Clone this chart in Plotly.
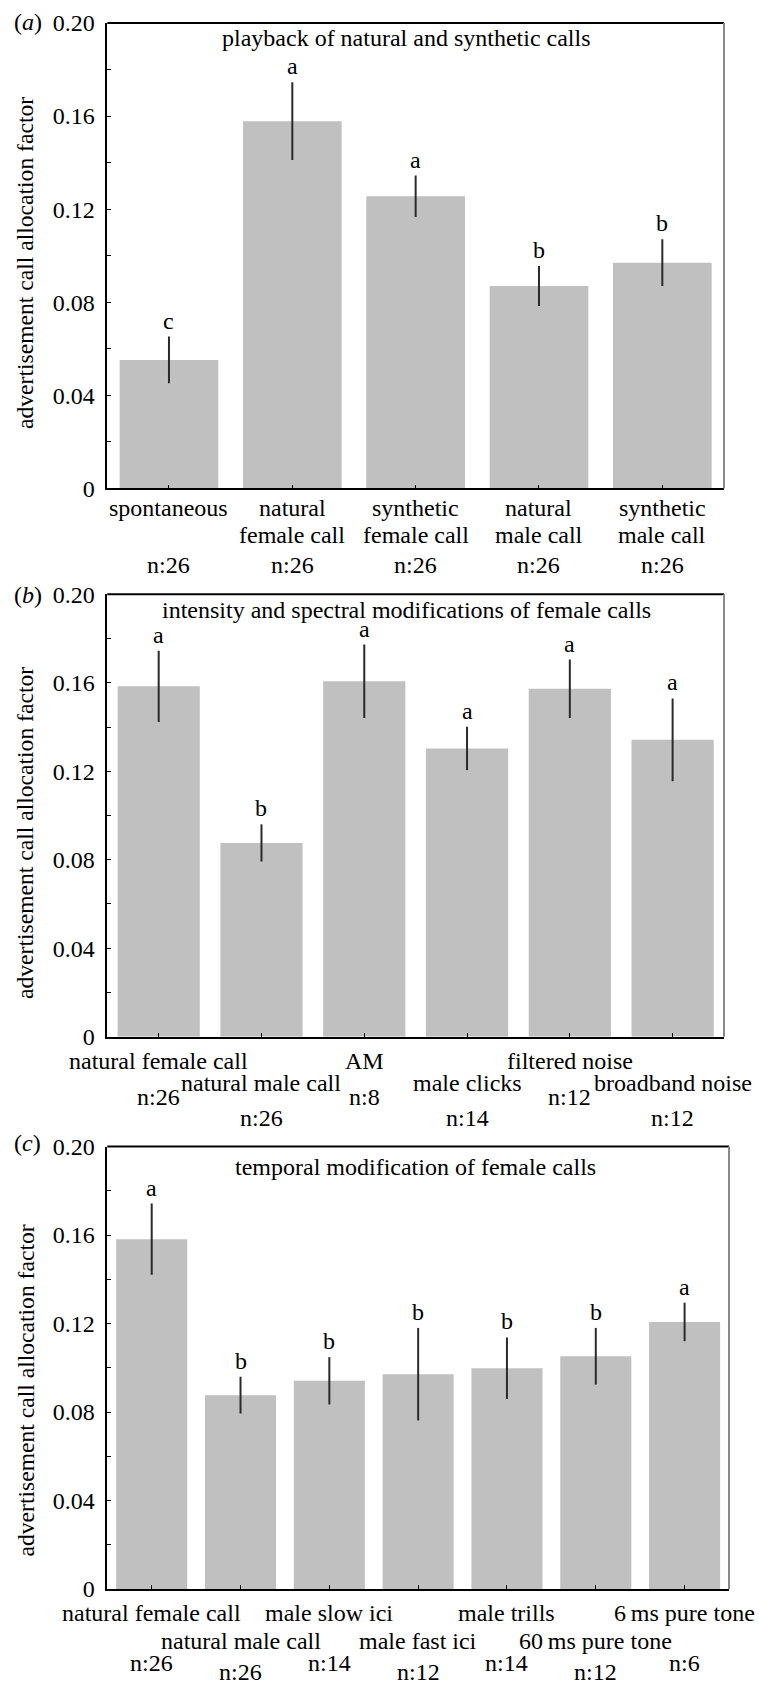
import plotly.graph_objects as go

W, H = 759, 1687
FONT = "Liberation Serif"

# ---------------- data ----------------
# panel (a)
a_cats = ["spontaneous", "natural\nfemale call", "synthetic\nfemale call", "natural\nmale call", "synthetic\nmale call"]
a_means = [0.0552, 0.1578, 0.1255, 0.0870, 0.0970]
a_errs = [0.0100, 0.0167, 0.0089, 0.0086, 0.0100]
a_letters = ["c", "a", "a", "b", "b"]
a_n = [26, 26, 26, 26, 26]
a_title = "playback of natural and synthetic calls"

# panel (b)
b_cats = ["natural female call", "natural male call", "AM", "male clicks", "filtered noise", "broadband noise"]
b_means = [0.1584, 0.0876, 0.1607, 0.1303, 0.1573, 0.1342]
b_errs = [0.0161, 0.0084, 0.0166, 0.0098, 0.0132, 0.0187]
b_letters = ["a", "b", "a", "a", "a", "a"]
b_n = [26, 26, 8, 14, 12, 12]
b_title = "intensity and spectral modifications of female calls"

# panel (c)
c_cats = ["natural female call", "natural male call", "male slow ici", "male fast ici", "male trills",
          "60\u2009ms pure tone", "6\u2009ms pure tone"]
c_means = [0.1581, 0.0876, 0.0941, 0.0971, 0.0998, 0.1052, 0.1207]
c_errs = [0.0161, 0.0083, 0.0107, 0.0209, 0.0139, 0.0128, 0.0087]
c_letters = ["a", "b", "b", "b", "b", "b", "a"]
c_n = [26, 26, 14, 12, 14, 12, 6]
c_title = "temporal modification of female calls"

y_tickvals = [0, 0.04, 0.08, 0.12, 0.16, 0.20]
y_ticktext = ["0", "0.04", "0.08", "0.12", "0.16", "0.20"]
y_label = "advertisement call allocation factor"


def py(px):
    return 1 - px / H


def pxx(px):
    return px / W


panels = [
    dict(tag="a", cats=a_cats, means=a_means, errs=a_errs, letters=a_letters, n=a_n, title=a_title,
         xdom=(107.3, 724), ytop=23.0, ybot=488.3, title_xy=(406, 38), ylab_y=263, tag_y=22,
         mode="a"),
    dict(tag="b", cats=b_cats, means=b_means, errs=b_errs, letters=b_letters, n=b_n, title=b_title,
         xdom=(107.3, 724), ytop=594.3, ybot=1036.7, title_xy=(406, 610), ylab_y=833, tag_y=595,
         mode="stagger", rows=(1060.5, 1083.3, 1096.7, 1118.3)),
    dict(tag="c", cats=c_cats, means=c_means, errs=c_errs, letters=c_letters, n=c_n, title=c_title,
         xdom=(107.3, 729), ytop=1146.5, ybot=1589, title_xy=(415, 1167.3), ylab_y=1390.5, tag_y=1143,
         mode="stagger", rows=(1612.7, 1640.7, 1663, 1671.5)),
]

fig = go.Figure()
annotations = []
shapes = []
font = dict(family=FONT, size=24, color="black")

for i, p in enumerate(panels, start=1):
    xa = "x" if i == 1 else f"x{i}"
    ya = "y" if i == 1 else f"y{i}"
    xkey = "xaxis" if i == 1 else f"xaxis{i}"
    ykey = "yaxis" if i == 1 else f"yaxis{i}"
    keys = [c.replace("\n", " ") for c in p["cats"]]
    fig.add_trace(go.Bar(
        x=keys, y=p["means"], xaxis=xa, yaxis=ya, width=0.8,
        marker=dict(color="#c0c0c0", line=dict(width=0)),
        error_y=dict(type="data", array=p["errs"], symmetric=True, color="#2a2a2a", thickness=2, width=0),
        hoverinfo="skip", showlegend=False,
    ))
    fig.layout[xkey] = dict(
        domain=[pxx(p["xdom"][0]), pxx(p["xdom"][1])], anchor=ya, type="category",
        categoryorder="array", categoryarray=keys, range=[-0.5, len(keys) - 0.5],
        showline=True, linecolor="black", linewidth=1.5, ticks="inside", ticklen=4,
        tickcolor="black", tickwidth=1, showticklabels=False, showgrid=False, zeroline=False,
        fixedrange=True,
    )
    fig.layout[ykey] = dict(
        domain=[py(p["ybot"]), py(p["ytop"])], anchor=xa, range=[0, 0.2],
        tickvals=y_tickvals, ticktext=y_ticktext, ticks="inside", ticklen=4, tickcolor="black",
        tickwidth=1, showline=True, linecolor="black", linewidth=1.5, showgrid=False,
        zeroline=False, tickfont=font, ticklabelstandoff=6,
        minor=dict(dtick=0.02, tick0=0, ticks="inside", ticklen=4, tickcolor="black", showgrid=False),
        fixedrange=True,
    )
    # frame: top (black) and right (grey)
    shapes.append(dict(type="line", xref=f"{xa} domain", yref=f"{ya} domain", x0=0, x1=1, y0=1, y1=1,
                       line=dict(color="black", width=2)))
    shapes.append(dict(type="line", xref=f"{xa} domain", yref=f"{ya} domain", x0=1, x1=1, y0=0, y1=1,
                       line=dict(color="#8a8a8a", width=2)))
    # panel title inside
    annotations.append(dict(text=p["title"], xref="paper", yref="paper", x=pxx(p["title_xy"][0]),
                            y=py(p["title_xy"][1]), xanchor="center", yanchor="middle",
                            showarrow=False, font=font))
    # panel tag
    annotations.append(dict(text=f"(<i>{p['tag']}</i>)", xref="paper", yref="paper", x=pxx(12),
                            y=py(p["tag_y"]), xanchor="left", yanchor="middle", showarrow=False,
                            font=font))
    # y label
    annotations.append(dict(text=y_label, xref="paper", yref="paper", x=pxx(25), y=py(p["ylab_y"]),
                            xanchor="center", yanchor="middle", textangle=-90, showarrow=False,
                            font=dict(family=FONT, size=23.6, color="black")))
    # significance letters
    for k, m, e, L in zip(keys, p["means"], p["errs"], p["letters"]):
        annotations.append(dict(text=L, xref=xa, yref=ya, x=k, y=m + e, xanchor="center",
                                yanchor="bottom", yshift=1, showarrow=False, font=font))
    # category labels
    for j, (k, c, n) in enumerate(zip(keys, p["cats"], p["n"])):
        lines = c.split("\n")
        if p["mode"] == "a":
            ys = [507.7, 535.0][:len(lines)]
            ny = 565.0
        else:
            r1, r2, r3, r4 = p["rows"]
            ys = [r1] if j % 2 == 0 else [r2]
            ny = r3 if j % 2 == 0 else r4
        for line, yy in zip(lines, ys):
            annotations.append(dict(text=line, xref=xa, yref="paper", x=k, y=py(yy), xanchor="center",
                                    yanchor="middle", showarrow=False, font=font))
        annotations.append(dict(text=f"n:{n}", xref=xa, yref="paper", x=k, y=py(ny), xanchor="center",
                                yanchor="middle", showarrow=False, font=font))

fig.update_layout(
    width=W, height=H, margin=dict(l=0, r=0, t=0, b=0, autoexpand=False),
    paper_bgcolor="white", plot_bgcolor="white", showlegend=False,
    font=font, annotations=annotations, shapes=shapes, bargap=0.2,
)

fig.write_html("out.html", config={"displayModeBar": False},
               post_script="document.body.style.margin='0';")
